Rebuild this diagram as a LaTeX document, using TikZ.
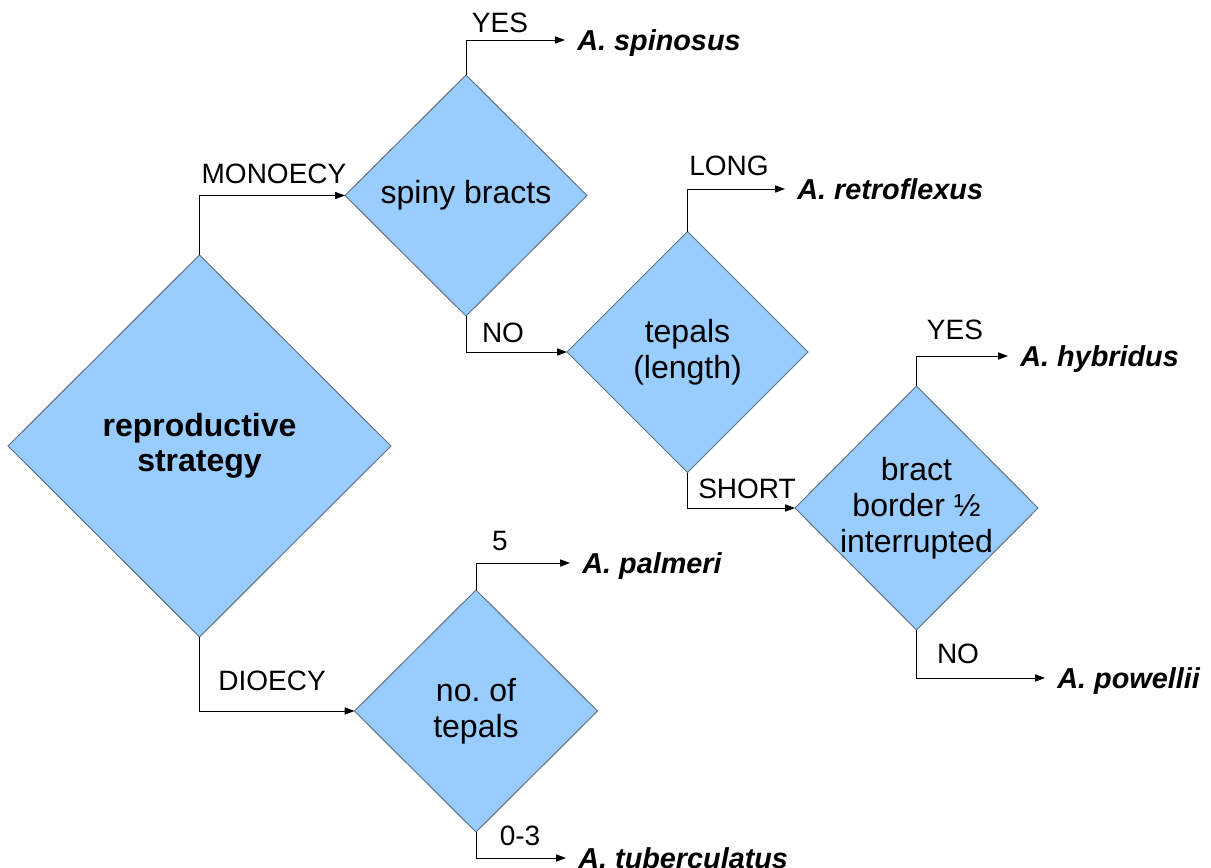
\documentclass[tikz,border=0pt]{standalone}
\usepackage{fontspec}
\setmainfont{Liberation Sans}
\usetikzlibrary{shapes.geometric,arrows.meta}
\definecolor{dfill}{HTML}{99CCFF}
\definecolor{dline}{HTML}{5F6F80}
\tikzset{
  dia/.style={diamond, aspect=1, draw=dline, line width=0.5pt, fill=dfill, inner sep=0pt, outer sep=0pt},
  dtext/.style={align=center, font=\fontsize{16}{18}\selectfont, inner sep=0pt},
  lbl/.style={anchor=base, font=\fontsize{14}{16}\selectfont, inner sep=0pt},
  sp/.style={anchor=west, font=\fontsize{14.4}{16}\selectfont\bfseries\itshape, inner xsep=6pt, inner ysep=0pt, text height=10.3pt, text depth=0pt},
  conn/.style={line width=0.5pt, -{Triangle[length=5pt,width=3.6pt]}}
}
\begin{document}
\frenchspacing
\begin{tikzpicture}[x=0.5pt,y=-0.5pt]
\useasboundingbox (0,0) rectangle (1211,868);
% diamonds
\node[dia, minimum width=191.5pt, minimum height=191pt] (d1) at (199.5,446) {};
\node[dtext, font=\fontsize{16}{17.5}\selectfont\bfseries] at (d1) {reproductive\\strategy};
\node[dia, minimum width=121pt, minimum height=120.5pt] (d2) at (466,195.5) {};
\node[dtext] at (d2) {spiny bracts};
\node[dia, minimum width=120.5pt, minimum height=120.5pt] (d3) at (687.5,352) {};
\node[dtext] at (d3) {tepals\\(length)};
\node[dia, minimum width=121.5pt, minimum height=122pt] (d4) at (916.5,508) {};
\node[dtext] at (d4) {bract\\border ½\\interrupted};
\node[dia, minimum width=121.5pt, minimum height=121pt] (d5) at (476,711) {};
\node[dtext] at (d5) {no. of\\tepals};
% species
\node[sp] (s1) at (565,40) {A. spinosus};
\node[sp] (s2) at (785,189) {A. retroflexus};
\node[sp] (s3) at (1008,356) {A. hybridus};
\node[sp] (s4) at (1045,678) {A. powellii};
\node[sp] (s5) at (570,563) {A. palmeri};
\node[sp] (s6) at (566,858) {A. tuberculatus};
% connectors
\draw[conn] (d1.north) |- (d2.west);
\draw[conn] (d1.south) |- (d5.west);
\draw[conn] (d2.north) |- (s1.west);
\draw[conn] (d2.south) |- (d3.west);
\draw[conn] (d3.north) |- (s2.west);
\draw[conn] (d3.south) |- (d4.west);
\draw[conn] (d4.north) |- (s3.west);
\draw[conn] (d4.south) |- (s4.west);
\draw[conn] (d5.north) |- (s5.west);
\draw[conn] (d5.south) |- (s6.west);
% labels
\node[lbl] (l1) at (274,183) {MONOECY};
\node[lbl] (l2) at (272,690) {DIOECY};
\node[lbl] (l3) at (500,32) {YES};
\node[lbl] (l4) at (503,342) {NO};
\node[lbl] (l5) at (729,175) {LONG};
\node[lbl] (l6) at (747,498) {SHORT};
\node[lbl] (l7) at (955,339) {YES};
\node[lbl] (l8) at (958,663) {NO};
\node[lbl] (l9) at (500,550) {5};
\node[lbl] (l10) at (520,845) {0-3};
\end{tikzpicture}
\end{document}
